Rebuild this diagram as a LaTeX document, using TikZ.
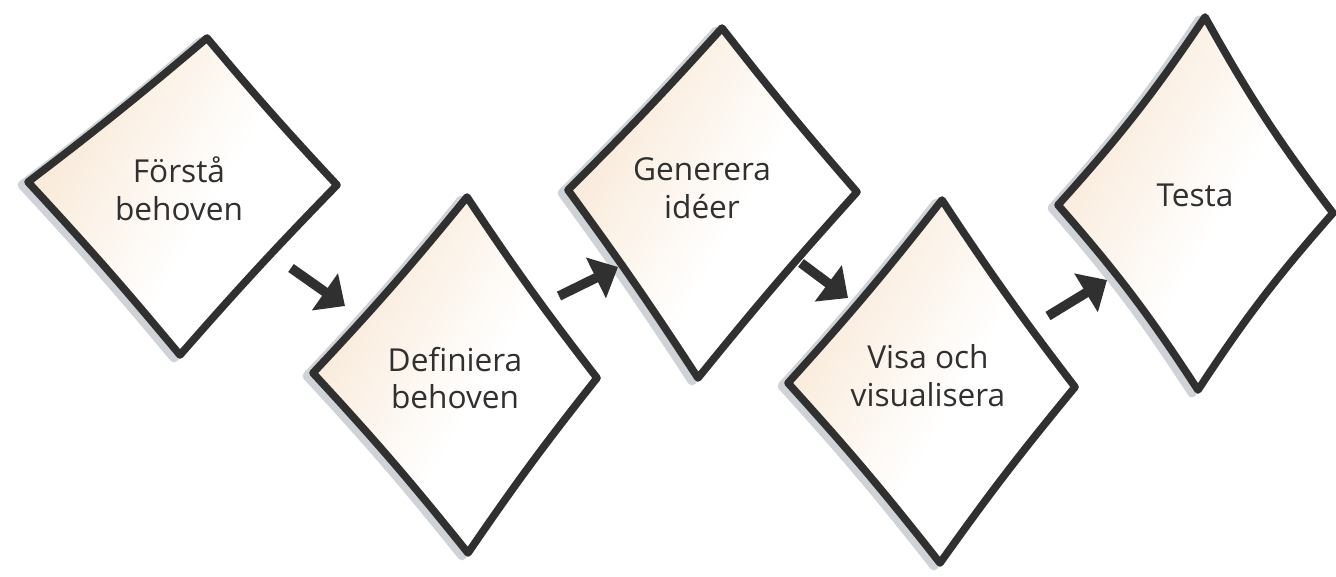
\documentclass[tikz,border=0pt]{standalone}
\usepackage{fontspec}
\setmainfont{Open Sans}
\usetikzlibrary{arrows.meta}
\definecolor{ink}{HTML}{303030}
\definecolor{peach}{RGB}{246,222,196}
\definecolor{shadowgray}{RGB}{196,199,204}
\pgfdeclarehorizontalshading{edgeglow}{100bp}{color(0bp)=(peach); color(30bp)=(peach!60); color(55bp)=(white); color(100bp)=(white)}
\tikzset{
  edge/.style={draw=ink, line width=4.3pt, line join=round, line cap=round},
  shadowline/.style={draw=shadowgray, line width=5pt, line join=round, opacity=0.8},
  fillshade/.style={shading=edgeglow, shading angle=-30},
  label/.style={text=ink, align=center, font=\fontsize{18}{21.5}\selectfont, inner sep=0pt},
  flow/.style={draw=ink, line width=5.5pt, -{Triangle[length=14pt,width=25pt]}},
}
\newcommand{\hdiamond}[5]{% bend, top, right, bottom, left
  \begin{scope}[shift={(-6,3)}]
    \draw[shadowline] #2 to[bend right=#1] #3 to[bend right=#1] #4 to[bend right=#1] #5 to[bend right=#1] #2 -- cycle;
  \end{scope}
  \shade[fillshade] #2 to[bend right=#1] #3 to[bend right=#1] #4 to[bend right=#1] #5 to[bend right=#1] #2 -- cycle;
  \draw[edge] #2 to[bend right=#1] #3 to[bend right=#1] #4 to[bend right=#1] #5 to[bend right=#1] #2 -- cycle;
}
\begin{document}
\begin{tikzpicture}[x=0.02cm, y=-0.02cm]
\useasboundingbox (0,0) rectangle (1336,576);
\fill[white] (0,0) rectangle (1336,576);

\hdiamond{1.5}{(207,38)}{(337,185)}{(180,355)}{(28,182)}
\hdiamond{2}{(467,197)}{(597,378)}{(468,553)}{(313,373)}
\hdiamond{1.5}{(722,28)}{(857,192)}{(698,378)}{(568,190)}
\hdiamond{2}{(942,200)}{(1075,387)}{(940,563)}{(788,383)}
\hdiamond{4}{(1205,17)}{(1333,213)}{(1198,390)}{(1058,205)}

\node[label] (n1) at (179,189) {Förstå\\behoven};
\node[label] (n2) at (455,378) {Definiera\\behoven};
\node[label] (n3) at (702,188) {Generera\\idéer};
\node[label] (n4) at (928,376) {Visa och\\visualisera};
\node[label] (n5) at (1195,195) {Testa};

\coordinate (a1s) at (291,268);
\coordinate (a1e) at (345,306);
\coordinate (a2s) at (559,296);
\coordinate (a2e) at (618,267);
\coordinate (a3s) at (801,263);
\coordinate (a3e) at (848,298);
\coordinate (a4s) at (1048,316);
\coordinate (a4e) at (1107,280);

\draw[flow] (a1s) -- (a1e);
\draw[flow] (a2s) -- (a2e);
\draw[flow] (a3s) -- (a3e);
\draw[flow] (a4s) -- (a4e);
\end{tikzpicture}
\end{document}
